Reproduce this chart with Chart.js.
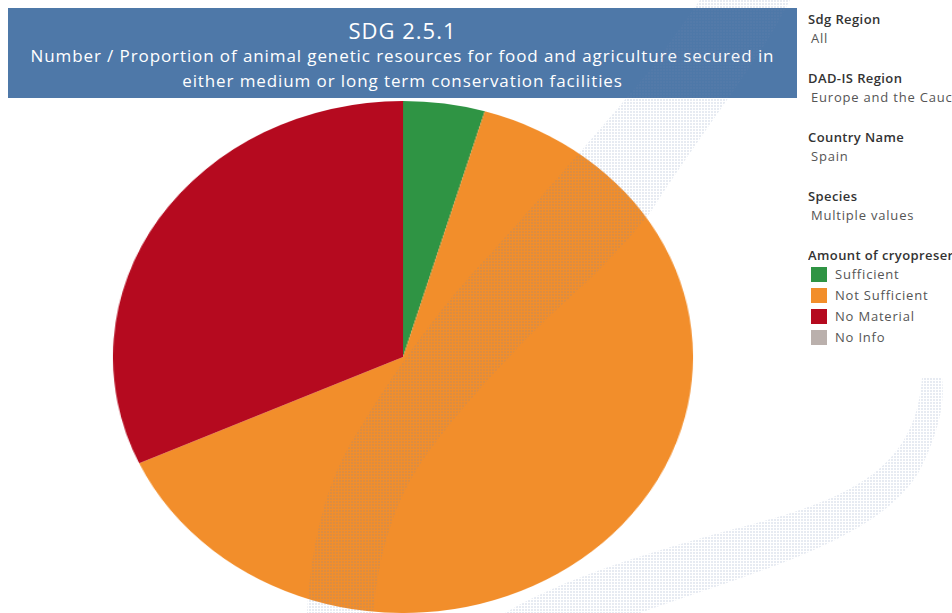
<!DOCTYPE html>
<html lang="en">
<head>
    <meta charset="UTF-8">
    <title>SDG 2.5.1</title>
    <script src="https://cdn.jsdelivr.net/npm/chart.js"></script>
    <style>
        html, body { margin: 0; padding: 0; background: #fff; overflow: hidden; }
        body { width: 952px; height: 613px; position: relative; font-family: "Open Sans", "Noto Sans", sans-serif; }
        #titleBar {
            position: absolute; left: 8px; top: 8px; width: 789px; height: 90px;
            background: #4e78a8; color: #fff; text-align: center;
        }
        #titleBar .main { font-size: 22px; letter-spacing: 1px; line-height: 26px; padding-top: 9px; }
        #titleBar .sub { font-size: 17px; letter-spacing: 0.9px; line-height: 25px; }
        #pieBox {
            position: absolute; left: 147px; top: 101px; width: 512px; height: 512px;
            transform: scaleX(1.133); transform-origin: center center;
        }
        #panel { position: absolute; left: 808px; top: 10px; width: 144px; overflow: hidden; white-space: nowrap; }
        .filter { height: 59px; }
        .filter .head { font-size: 13px; color: #333; font-weight: 600; line-height: 18px; letter-spacing: 0.4px; }
        .filter .val { font-size: 13px; color: #555; line-height: 20px; padding-left: 3px; letter-spacing: 0.8px; }
        .legItem { font-size: 13px; color: #555; height: 21px; line-height: 21px; padding-left: 3px; letter-spacing: 0.8px; }
        .legItem span.sw { display: inline-block; width: 16px; height: 15px; vertical-align: -3px; margin-right: 8px; }
        #watermark { position: absolute; left: 0; top: 0; pointer-events: none; }
    </style>
</head>
<body>
    <div id="titleBar">
        <div class="main">SDG 2.5.1</div>
        <div class="sub">Number / Proportion of animal genetic resources for food and agriculture secured in<br>either medium or long term conservation facilities</div>
    </div>

    <div id="pieBox"><canvas id="pieChart"></canvas></div>

    <div id="panel">
        <div class="filter"><div class="head">Sdg Region</div><div class="val">All</div></div>
        <div class="filter"><div class="head">DAD-IS Region</div><div class="val">Europe and the Caucasus</div></div>
        <div class="filter"><div class="head">Country Name</div><div class="val">Spain</div></div>
        <div class="filter"><div class="head">Species</div><div class="val">Multiple values</div></div>
        <div class="filter" style="height:auto">
            <div class="head">Amount of cryopreserved material</div>
            <div id="legend"></div>
        </div>
    </div>

    <!-- faint dotted background swooshes -->
    <svg id="watermark" width="952" height="613">
        <defs>
            <pattern id="dots" width="3" height="3" patternUnits="userSpaceOnUse">
                <rect x="0" y="0" width="2" height="2" fill="rgba(110,135,175,0.17)"/>
            </pattern>
        </defs>
        <path d="M307 613 C310 560 320 500 347 450 C370 410 420 330 480 265 C530 210 600 130 650 70 L700 0 L790 0 C760 60 710 120 650 213 C620 250 590 280 567 300 C520 343 467 400 430 450 C400 490 380 540 373 613 Z"
              fill="url(#dots)"/>
        <path d="M922 378 C915 470 850 500 730 530 C640 555 560 580 505 613 L640 613 C760 570 880 540 920 470 C940 430 945 400 942 378 Z"
              fill="url(#dots)"/>
    </svg>

    <script>
        // categories and values (counts of breeds)
        var categories = ['Sufficient', 'Not Sufficient', 'No Material', 'No Info'];
        var counts = [3, 42, 21, 0];
        var colors = ['#2f9444', '#f28e2b', '#b50a1f', '#bab0ac'];

        // legend on the right
        var legend = document.getElementById('legend');
        categories.forEach(function(cat, i) {
            var row = document.createElement('div');
            row.className = 'legItem';
            row.innerHTML = '<span class="sw" style="background:' + colors[i] + '"></span>' + cat;
            legend.appendChild(row);
        });

        var ctx = document.getElementById('pieChart').getContext('2d');
        new Chart(ctx, {
            type: 'pie',
            data: {
                labels: categories,
                datasets: [{
                    data: counts,
                    backgroundColor: colors,
                    borderWidth: 0,
                    hoverOffset: 0
                }]
            },
            options: {
                responsive: true,
                maintainAspectRatio: false,
                animation: false,
                layout: { padding: 0 },
                plugins: {
                    legend: { display: false },
                    tooltip: { enabled: false }
                }
            }
        });
    </script>
</body>
</html>
